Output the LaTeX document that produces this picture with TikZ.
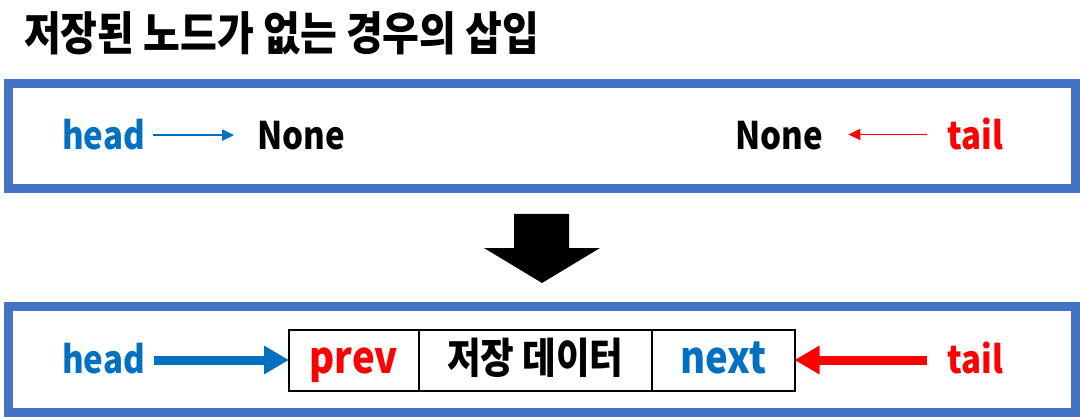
\documentclass[tikz,border=0pt]{standalone}
\usepackage{fontspec}
\setmainfont{Noto Sans CJK KR}[FakeStretch=0.87]
\usetikzlibrary{arrows.meta,positioning}
\definecolor{headblue}{HTML}{0070C0}
\definecolor{tailred}{HTML}{FF0000}
\definecolor{frameblue}{HTML}{4472C4}
\begin{document}
\begin{tikzpicture}[x=1pt, y=-1pt,
    every node/.style={inner sep=0pt, outer sep=0pt, font=\fontsize{38}{40}\selectfont\bfseries},
    frame/.style={draw=frameblue, line width=9pt},
    cell/.style={draw=black, line width=2pt, minimum height=61pt, text height=26pt, text depth=0pt,
        font=\fontsize{44}{46}\selectfont\bfseries},
    thinarrow/.style={line width=1.8pt, -{Triangle[length=12pt,width=11pt]}},
    thickarrow/.style={line width=9pt, -{Triangle[length=25pt,width=27pt]}}]
    \useasboundingbox (0,0) rectangle (1080,417);
    \node[anchor=base west, font=\fontsize{46}{48}\selectfont\bfseries] (title) at (24,51) {저장된 노드가 없는 경우의 삽입};
    \foreach \t/\b in {83.5/188.5, 306.5/412} {
        \draw[frame] (8.5,\t) rectangle (1075.5,\b);
    }
    % before
    \node[anchor=base, text=headblue] (headA) at (103.5,150) {head};
    \node[anchor=base] (noneA) at (301,150) {None};
    \node[anchor=base] (noneB) at (779.5,150) {None};
    \node[anchor=base, text=tailred] (tailA) at (975.5,150) {tail};
    \draw[thinarrow, headblue, shorten <=8pt, shorten >=23pt] (headA.east) -- (noneA.west |- headA.east);
    \draw[thinarrow, tailred, shorten <=21pt, shorten >=25pt] (tailA.west) -- (noneB.east |- tailA.west);
    % block arrow
    \fill (514,214) -- (569,214) -- (569,248) -- (600,248) -- (542,283) -- (484,248) -- (514,248) -- cycle;
    % after
    \node[cell, minimum width=129.6pt, text=tailred] (prev) at (353.8,360) {prev};
    \node[cell, minimum width=233.4pt, right=0pt of prev, font=\fontsize{42}{44}\selectfont\bfseries] (data) {저장 데이터};
    \node[cell, minimum width=142.5pt, right=0pt of data, text=headblue] (next) {next};
    \node[anchor=base, text=headblue] (headB) at (103.5,373) {head};
    \node[anchor=base, text=tailred] (tailB) at (975.5,373) {tail};
    \draw[thickarrow, headblue, shorten <=9pt] (headB.east |- prev.west) -- (prev.west);
    \draw[thickarrow, tailred, shorten <=21pt] (tailB.west |- next.east) -- (next.east);
\end{tikzpicture}
\end{document}
